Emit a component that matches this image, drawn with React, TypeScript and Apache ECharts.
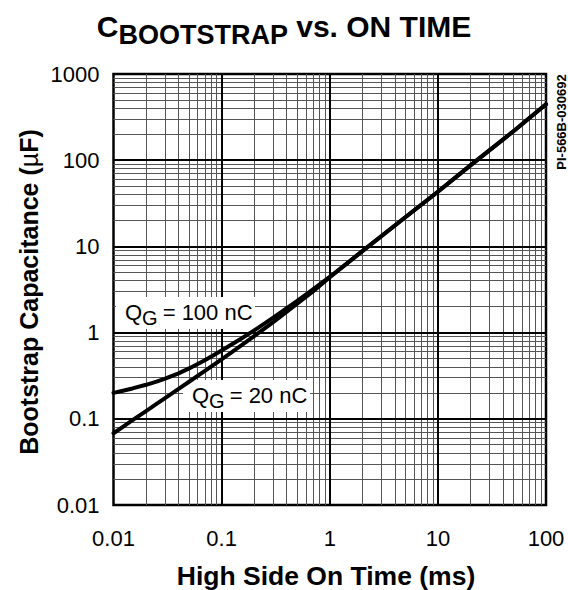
import React, { useEffect, useRef } from "react";
import * as echarts from "echarts";

// ---- data ----
const timeMs = [0.01, 0.0125, 0.015, 0.02, 0.025, 0.03, 0.04, 0.05, 0.07, 0.1, 0.15, 0.2, 0.3, 0.5, 0.7, 1, 2, 5, 10, 20, 50, 100];
const capQg100 = [0.2, 0.213, 0.225, 0.248, 0.27, 0.292, 0.337, 0.384, 0.479, 0.62, 0.844, 1.06, 1.49, 2.33, 3.18, 4.42, 8.8, 21.8, 43, 87, 217, 445];
const capQg20 = [0.068, 0.0824, 0.0964, 0.123, 0.149, 0.174, 0.222, 0.269, 0.359, 0.488, 0.703, 0.911, 1.32, 2.16, 3.01, 4.38, 8.8, 21.8, 43, 87, 217, 445];
const xTickLabels = ["0.01", "0.1", "1", "10", "100"];
const yTickLabels = ["0.01", "0.1", "1", "10", "100", "1000"];
const xDecades = [0.01, 0.1, 1, 10];
const yDecades = [0.01, 0.1, 1, 10, 100];
const minorMultipliers = [2, 3, 4, 5, 6, 7, 8, 9];

const FONT = "'Liberation Sans', Arial, Helvetica, sans-serif";

function txt(x: number, y: number, text: string, size: number, bold: boolean, extra: any = {}) {
  return {
    type: "text",
    x,
    y,
    z: 60,
    style: {
      text,
      fontSize: size,
      fontWeight: bold ? "bold" : "normal",
      fontFamily: FONT,
      fill: "#000",
      align: "left",
      verticalAlign: "middle",
      ...extra,
    },
  };
}

function qgLabel(x: number, y: number, rest: string, bgW: number) {
  const fs = 22;
  const gs = 20;
  const qW = 0.778 * fs;
  const gW = 0.722 * gs;
  return [
    { type: "rect", z: 50, shape: { x: x - 9, y: y - 15, width: bgW, height: 32 }, style: { fill: "#fff", stroke: null } },
    txt(x, y, "Q", fs, false),
    txt(x + qW, y + 6, "G", gs, false),
    txt(x + qW + gW, y, rest, fs, false),
  ];
}

export default function App() {
  const ref = useRef<HTMLDivElement>(null);
  useEffect(() => {
    if (!ref.current) return;
    const chart = echarts.init(ref.current, null, { renderer: "svg" });

    const minorStyle = { color: "#555", width: 1, type: "solid" as const };
    const majorStyle = { color: "#000", width: 2, type: "solid" as const };
    const lines: any[] = [];
    xDecades.forEach((d) =>
      minorMultipliers.forEach((m) => lines.push({ xAxis: +(d * m).toPrecision(3), lineStyle: minorStyle }))
    );
    yDecades.forEach((d) =>
      minorMultipliers.forEach((m) => lines.push({ yAxis: +(d * m).toPrecision(3), lineStyle: minorStyle }))
    );
    xDecades.slice(1).forEach((d) => lines.push({ xAxis: d, lineStyle: majorStyle }));
    yDecades.slice(1).forEach((d) => lines.push({ yAxis: d, lineStyle: majorStyle }));

    const labelIdx = (v: number) => Math.round(Math.log10(v)) + 2;

    const curve = (name: string, values: number[]) => ({
      name,
      type: "line",
      z: 70,
      smooth: false,
      showSymbol: false,
      symbol: "none",
      lineStyle: { color: "#000", width: 4, join: "round", cap: "round" },
      data: timeMs.map((t, i) => [t, values[i]]),
    });

    const option: any = {
      animation: false,
      grid: {
        left: 113.5,
        right: 22,
        top: 74,
        bottom: 85,
        show: true,
        borderColor: "#000",
        borderWidth: 2.5,
        backgroundColor: "#fff",
      },
      xAxis: {
        type: "log",
        logBase: 10,
        min: 0.01,
        max: 100,
        axisLine: { show: false },
        axisTick: { show: false },
        splitLine: { show: false },
        axisLabel: {
          margin: 22,
          fontSize: 22,
          color: "#000",
          fontFamily: FONT,
          formatter: (v: number) => xTickLabels[labelIdx(v)] ?? "",
        },
      },
      yAxis: {
        type: "log",
        logBase: 10,
        min: 0.01,
        max: 1000,
        axisLine: { show: false },
        axisTick: { show: false },
        splitLine: { show: false },
        axisLabel: {
          margin: 14,
          fontSize: 22,
          color: "#000",
          fontFamily: FONT,
          formatter: (v: number) => yTickLabels[labelIdx(v)] ?? "",
        },
      },
      series: [
        {
          type: "line",
          data: [],
          z: 1,
          silent: true,
          markLine: {
            silent: true,
            z: 1,
            symbol: ["none", "none"],
            label: { show: false },
            animation: false,
            data: lines,
          },
        },
        curve("QG = 100 nC", capQg100),
        curve("QG = 20 nC", capQg20),
      ],
      graphic: {
        z: 50,
        elements: [
          // title: C with subscript BOOTSTRAP
          txt(96.7, 26, "C", 30, true),
          txt(118.4, 35, "BOOTSTRAP", 27, true),
          txt(296.2, 26, "vs. ON TIME", 30, true),
          // x axis name
          txt(326, 576, "High Side On Time (ms)", 26.5, true, { align: "center" }),
          // y axis name
          {
            type: "text",
            x: 28.5,
            y: 292,
            rotation: Math.PI / 2,
            z: 60,
            style: {
              text: "{b|Bootstrap Capacitance (}{u|µ}{b|F)}",
              align: "center",
              verticalAlign: "middle",
              fill: "#000",
              rich: {
                b: { fontSize: 25, fontWeight: "bold", fontFamily: FONT, fill: "#000" },
                u: { fontSize: 25, fontWeight: "normal", fontFamily: FONT, fill: "#000" },
              },
            },
          },
          // drawing number
          {
            type: "text",
            x: 561,
            y: 122,
            rotation: Math.PI / 2,
            z: 60,
            style: {
              text: "PI-566B-030692",
              align: "center",
              verticalAlign: "middle",
              fontSize: 13,
              fontWeight: "bold",
              fontFamily: FONT,
              fill: "#000",
            },
          },
          ...qgLabel(125, 312, " = 100 nC", 139),
          ...qgLabel(192, 395, " = 20 nC", 127),
        ],
      },
    };

    chart.setOption(option);
    return () => chart.dispose();
  }, []);

  return (
    <div
      ref={ref}
      style={{ position: "absolute", left: 0, top: 0, width: 568, height: 590, background: "#fff" }}
    />
  );
}
